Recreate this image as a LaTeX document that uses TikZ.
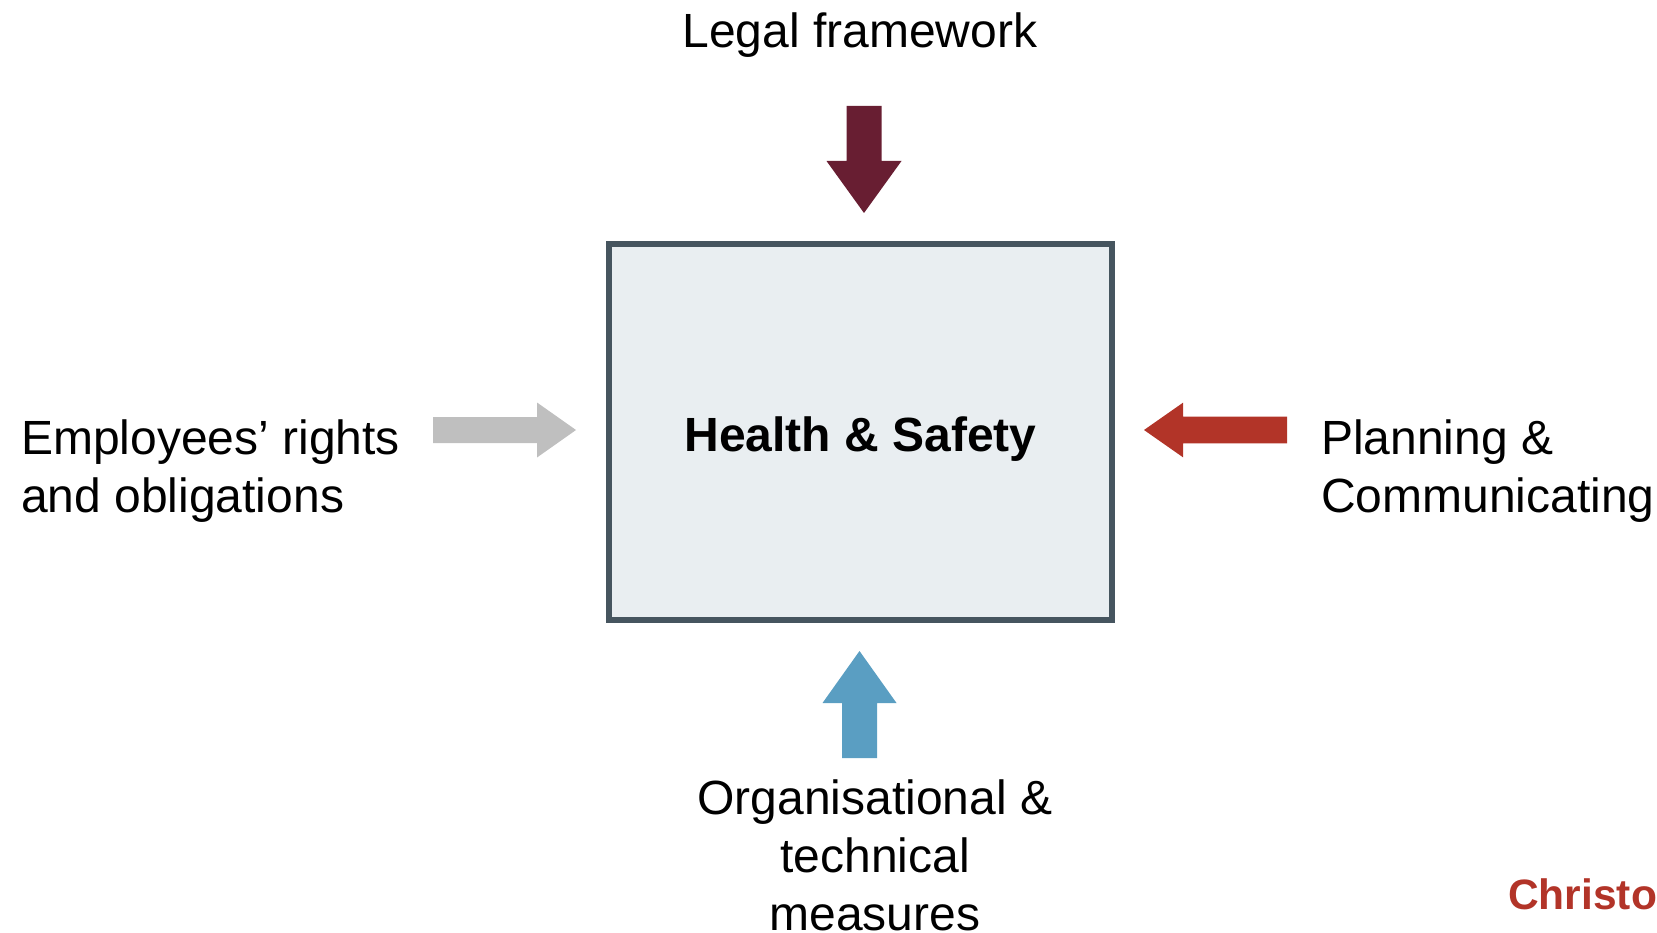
\documentclass[tikz,border=0pt]{standalone}
\usepackage{fontspec}
\setmainfont{Liberation Sans}
\definecolor{legalred}{RGB}{104,30,50}
\definecolor{rightsgray}{RGB}{191,191,191}
\definecolor{planred}{RGB}{178,52,40}
\definecolor{measblue}{RGB}{90,158,194}
\definecolor{boxfill}{RGB}{233,238,241}
\definecolor{boxline}{RGB}{70,85,95}
\tikzset{
  lbl/.style={inner sep=0pt,anchor=base,font=\fontsize{48}{58}\selectfont},
  blockarrow/.style={draw=none}
}
\begin{document}
\begin{tikzpicture}[x=1pt,y=-1pt]
\useasboundingbox (0,0) rectangle (1657,933);

% central box
\draw[line width=6pt,draw=boxline,fill=boxfill] (608.7,243.7) rectangle (1112.3,619.7);
\node[lbl,font=\fontsize{48}{58}\selectfont\bfseries] (hs) at (860.5,451) {Health \& Safety};

% arrows
\fill[blockarrow,legalred] (846.5,106) -- (881.5,106) -- (881.5,161) -- (901.5,161)
  -- (864,213) -- (826.5,161) -- (846.5,161) -- cycle;
\fill[blockarrow,rightsgray] (433,417) -- (537,417) -- (537,402.5) -- (576,430)
  -- (537,457.5) -- (537,443) -- (433,443) -- cycle;
\fill[blockarrow,planred] (1287,416.7) -- (1183,416.7) -- (1183,402.7) -- (1144,430)
  -- (1183,457.3) -- (1183,443.3) -- (1287,443.3) -- cycle;
\fill[blockarrow,measblue] (842,758) -- (877,758) -- (877,703) -- (896.5,703)
  -- (859.5,651) -- (822.5,703) -- (842,703) -- cycle;

% labels (base = last line)
\node[lbl] (legal) at (860,48) {Legal framework};
\node[lbl,anchor=base west,align=left] (rights) at (21,512.5) {Employees’ rights\\and obligations};
\node[lbl,anchor=base west,align=left] (plan) at (1321,512.5) {Planning \&\\Communicating};
\node[lbl,align=center] (meas) at (875,930) {Organisational \&\\technical\\measures};
\node[inner sep=0pt,anchor=base west,text=planred,font=\fontsize{42.5}{50}\selectfont\bfseries] (name) at (1508,909) {Christo};
\end{tikzpicture}
\end{document}
